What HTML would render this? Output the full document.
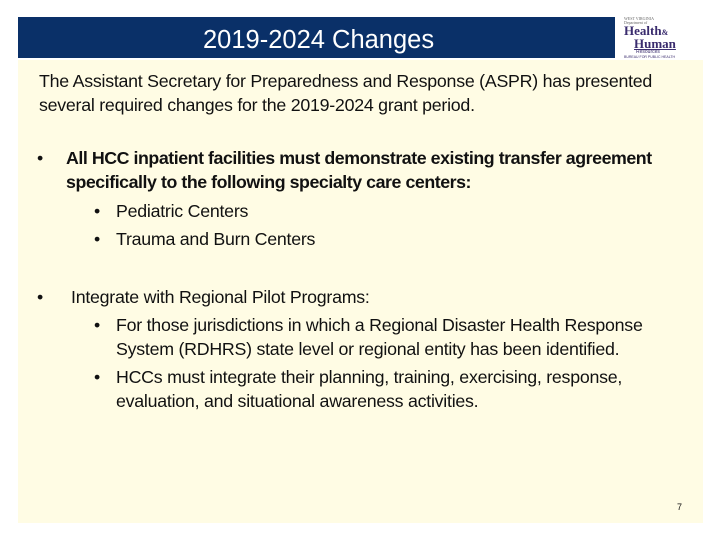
<!DOCTYPE html>
<html><head><meta charset="utf-8"><style>
body{margin:0;width:720px;height:540px;background:#fff;position:relative;overflow:hidden;font-family:"Liberation Sans",sans-serif;color:#111}
.hdr{position:absolute;left:18px;top:17px;width:597px;height:41px;background:#0a3068}
.ttl{position:absolute;left:203px;top:24px;color:#fff;font-size:25.5px;line-height:32px;white-space:nowrap}
.logo{position:absolute;left:624px;top:17px;width:80px;height:44px;font-family:"Liberation Serif",serif;color:#3a2c6e}
.box{position:absolute;left:18px;top:60px;width:685px;height:463px;background:#fffce4}
.t{position:absolute;font-size:17.8px;line-height:24px;white-space:nowrap;letter-spacing:-0.25px}
b{font-weight:bold}
</style></head><body>
<div class="hdr"></div>
<div class="ttl">2019-2024 Changes</div>
<div class="logo">
<div style="font-size:4px;line-height:4px;color:#666">WEST VIRGINIA<br>Department of</div>
<div style="font-size:13px;font-weight:bold;line-height:11px">Health<span style="font-size:8px">&amp;</span></div>
<div style="font-size:13px;font-weight:bold;line-height:11px;padding-left:10px;text-decoration:underline">Human</div>
<div style="font-size:5px;line-height:6px;padding-left:12px;font-family:'Liberation Sans',sans-serif">Resources</div>
<div style="font-size:3.5px;line-height:4px;font-family:'Liberation Sans',sans-serif">BUREAU FOR PUBLIC HEALTH</div>
</div>
<div class="box"></div>
<div class="t" style="left:39px;top:69px">The Assistant Secretary for Preparedness and Response (ASPR) has presented<br>several required changes for the 2019-2024 grant period.</div>
<div class="t" style="left:37px;top:146px">•</div>
<div class="t" style="left:66px;top:146px;letter-spacing:-0.45px"><b>All HCC inpatient facilities must demonstrate existing transfer agreement<br>specifically to the following specialty care centers:</b></div>
<div class="t" style="left:94px;top:199px">•</div>
<div class="t" style="left:116px;top:199px">Pediatric Centers</div>
<div class="t" style="left:94px;top:227px">•</div>
<div class="t" style="left:116px;top:227px">Trauma and Burn Centers</div>
<div class="t" style="left:37px;top:285px">•</div>
<div class="t" style="left:71px;top:285px">Integrate with Regional Pilot Programs:</div>
<div class="t" style="left:94px;top:313px">•</div>
<div class="t" style="left:116px;top:313px">For those jurisdictions in which a Regional Disaster Health Response<br>System (RDHRS) state level or regional entity has been identified.</div>
<div class="t" style="left:94px;top:365px">•</div>
<div class="t" style="left:116px;top:365px">HCCs must integrate their planning, training, exercising, response,<br>evaluation, and situational awareness activities.</div>
<div class="t" style="left:677px;top:501px;font-size:9px;line-height:12px">7</div>
</body></html>
